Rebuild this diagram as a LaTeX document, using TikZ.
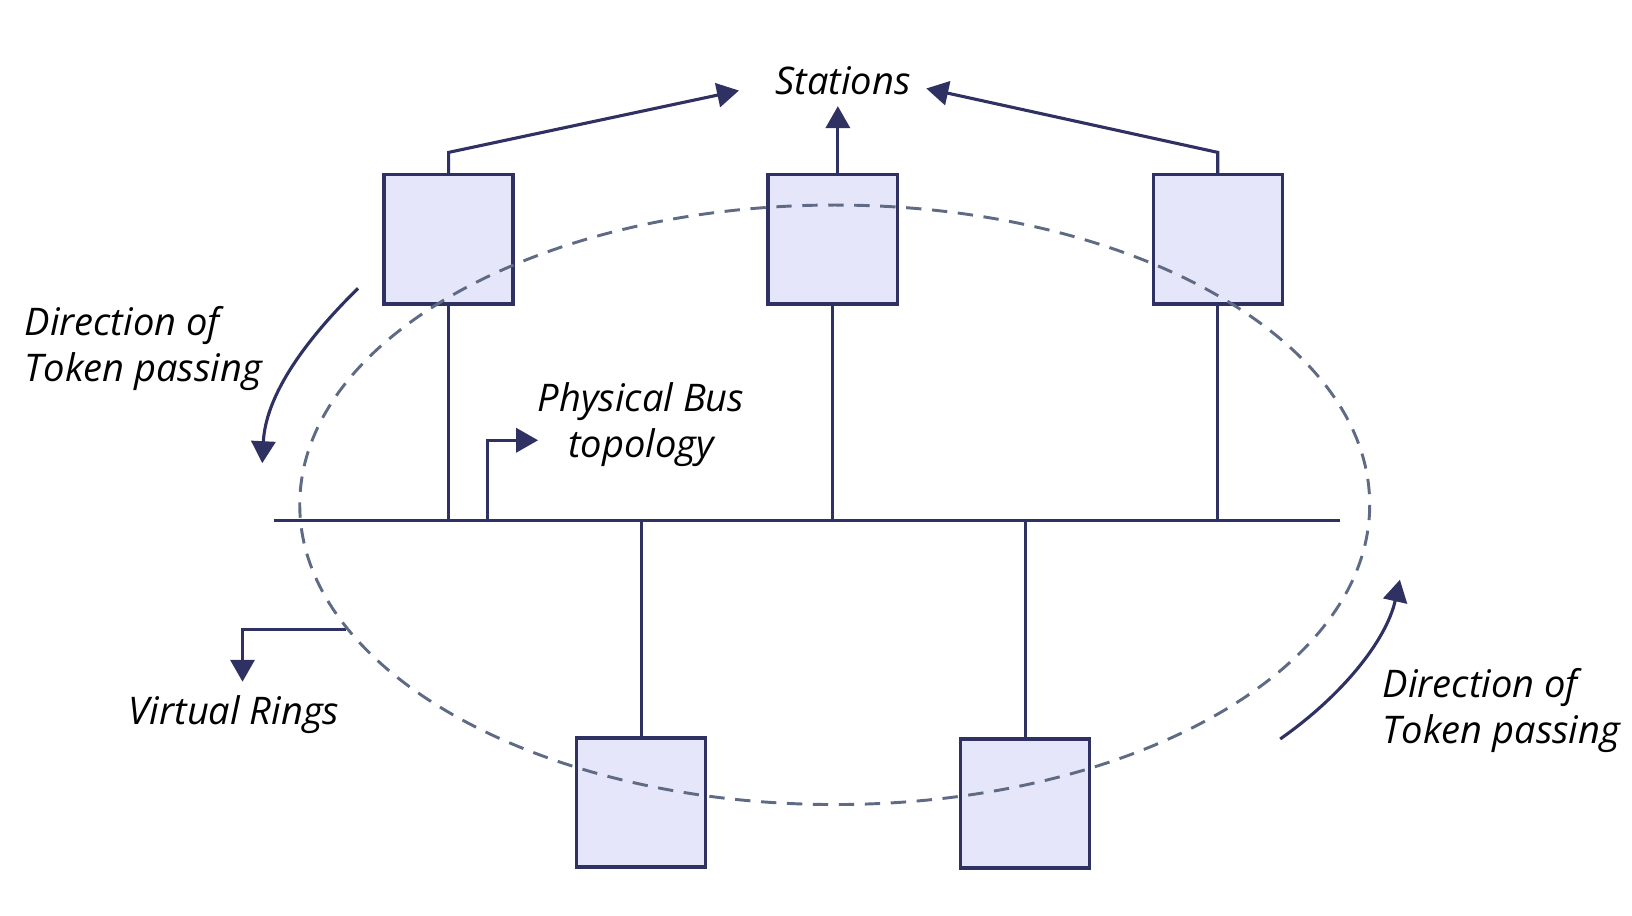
\documentclass[tikz,border=0pt]{standalone}
\usepackage{fontspec}
\setmainfont{Open Sans}
\usepackage{xcolor}
\usetikzlibrary{arrows.meta}
\usetikzlibrary{calc}
\definecolor{navy}{HTML}{2E3162}
\definecolor{lavender}{HTML}{E6E6FA}
\definecolor{ringgray}{HTML}{5F6A84}

\begin{document}
\begin{tikzpicture}[x=0.1mm, y=-0.1mm,
		station/.style={draw=navy, fill=lavender, line width=0.9pt, minimum size=12.4mm, inner sep=0pt},
		wire/.style={draw=navy, line width=0.85pt},
		arrowed/.style={-{Triangle[length=6pt,width=6.6pt]}},
		txt/.style={font=\itshape\fontsize{10.4}{12.6}\selectfont, inner sep=0pt}]
		\useasboundingbox (0,0) rectangle (1568,880);

		% stations
		\node(S1)	[station] at (431,230)	{};
		\node(S2)	[station] at (800,230)	{};
		\node(S3)	[station] at (1170,230)	{};
		\node(S4)	[station] at (616,771)	{};
		\node(S5)	[station] at (985,772)	{};

		% bus
		\coordinate(busL) at (263,500);
		\coordinate(busR) at (1287,500);
		\draw[wire] (busL) -- (busR);
		\draw[wire] (S1.south) -- (S1 |- busL);
		\draw[wire] (S2.south) -- (S2 |- busL);
		\draw[wire] (S3.south) -- (S3 |- busL);
		\draw[wire] (S4.north) -- (S4 |- busL);
		\draw[wire] (S5.north) -- (S5 |- busL);

		% labels
		\node(stations)	[txt] at (810,78)	{Stations};
		\node(dirL)	[txt, align=left, anchor=west] at (23,335)	{Direction of\\Token passing};
		\node(dirR)	[txt, align=left, anchor=west] at (1328,683)	{Direction of\\Token passing};
		\node(bus)	[txt, align=center] at (616,408)	{Physical Bus\\topology};
		\node(ring)	[txt] at (225,687)	{Virtual Rings};

		% arrows to the stations label
		\coordinate(inL) at (710,87);
		\coordinate(inM) at (805,102);
		\coordinate(inR) at (890,85);
		\draw[wire, arrowed] (S1.north) -- ++(0,-20) -- (inL);
		\draw[wire, arrowed] ($(S2.north)+(5,0)$) -- (inM);
		\draw[wire, arrowed] (S3.north) -- ++(0,-20) -- (inR);

		% pointers
		\coordinate(busFoot) at (468,500);
		\coordinate(busTip) at (517,423);
		\draw[wire, arrowed] (busFoot) |- (busTip);
		\coordinate(ringStart) at (332,605);
		\coordinate(ringTip) at (233,655);
		\draw[wire, arrowed] (ringStart) -| (ringTip);

		% token direction
		\coordinate(tokL1) at (344,277);
		\coordinate(tokL2) at (252,445);
		\coordinate(tokR1) at (1230,710);
		\coordinate(tokR2) at (1345,557);
		\draw[wire, arrowed] (tokL1) .. controls (285,335) and (255,385) .. (tokL2);
		\draw[wire, arrowed] (tokR1) .. controls (1290,668) and (1332,615) .. (tokR2);

		% virtual ring
		\draw[ringgray, line width=0.8pt, dash pattern=on 4.2pt off 2.9pt] (802,485) ellipse [x radius=514, y radius=288];
	\end{tikzpicture}
\end{document}
